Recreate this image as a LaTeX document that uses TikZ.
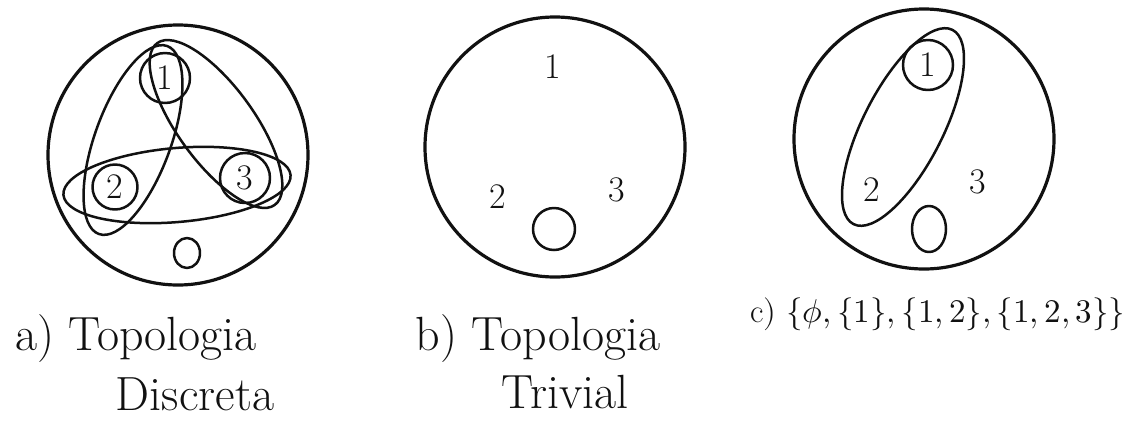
\documentclass[tikz,border=0pt]{standalone}
\usepackage{unicode-math}
\usepackage{tikz}
\usetikzlibrary{shapes.geometric}
\definecolor{tpInk}{HTML}{111111}
\tikzset{
 sketch/.style={line cap=round,line join=round,text=tpInk,
   font=\fontsize{36}{40}\selectfont},
 space/.style={circle,draw=tpInk,line width=3.2pt,inner sep=0pt,minimum size=260pt},
 point/.style={circle,draw=tpInk,line width=2.5pt,inner sep=0pt,minimum size=50pt},
 nullset/.style={ellipse,draw=tpInk,line width=2.5pt,inner sep=0pt},
 openset/.style={ellipse,draw=tpInk,line width=2.5pt,inner sep=0pt},
 digit/.style={inner sep=0pt},
 caption/.style={font=\fontsize{48}{52}\selectfont,anchor=base},
 setlist/.style={font=\fontsize{33}{40}\selectfont,anchor=base west,inner sep=0pt}
}

\begin{document}
\begin{tikzpicture}[sketch,x=1pt,y=-1pt]
 \useasboundingbox (0,0) rectangle (1136,432);
 % a) discrete
 \node[space] (A) at (178,155) {};
 \node[point] (a1) at (165,78) {1};
 \node[point,minimum size=45pt] (a2) at (115,187) {2};
 \node[point] (a3) at (245,178) {3};
 \node[nullset,minimum width=26pt,minimum height=30pt] (a0) at (187,253) {};
 \node[openset,minimum width=200pt,minimum height=76pt,rotate=70] (a12) at (133,140) {};
 \node[openset,minimum width=200pt,minimum height=76pt,rotate=126] (a13) at (216,124) {};
 \node[openset,minimum width=228pt,minimum height=74pt,rotate=5] (a23) at (177,185) {};
 \node[caption] (capA) at (136,350) {a) Topologia};
 \node[caption] (capA2) at (195,410) {Discreta};
 % b) trivial
 \node[space] (B) at (555,147) {};
 \node[digit] (b1) at (553,67) {1};
 \node[digit] (b2) at (498,197) {2};
 \node[digit] (b3) at (617,190) {3};
 \node[nullset,minimum size=42pt] (b0) at (554,229) {};
 \node[caption] (capB) at (538,350) {b) Topologia};
 \node[caption] (capB2) at (565,408) {Trivial};
 % c)
 \node[space] (C) at (924,139) {};
 \node[point] (c1) at (928,65) {1};
 \node[digit] (c2) at (872,190) {2};
 \node[digit] (c3) at (978,182) {3};
 \node[nullset,minimum width=34pt,minimum height=46pt] (c0) at (929,229) {};
 \node[openset,minimum width=218pt,minimum height=80pt,rotate=63] (c12) at (903,127) {};
 \node[setlist] (capC) at (750,322) {$\mathrm{c})\ \{\phi,\{1\},\{1,2\},\{1,2,3\}\}$};
\end{tikzpicture}
\end{document}
